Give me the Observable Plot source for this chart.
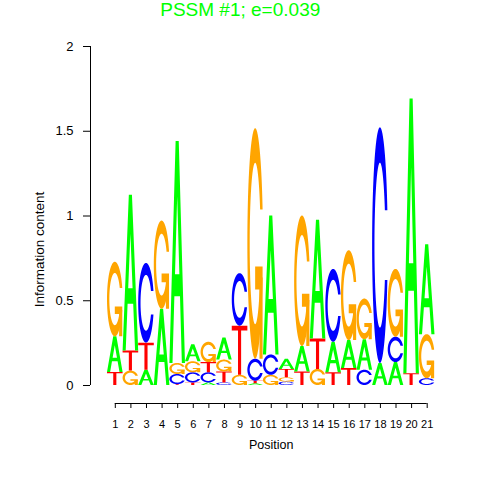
<!DOCTYPE html>
<html>
<head>
<meta charset="utf-8">
<script src="https://cdn.jsdelivr.net/npm/d3@7"></script>
<script src="https://cdn.jsdelivr.net/npm/@observablehq/plot@0.6"></script>
<style>
  html, body { margin: 0; padding: 0; background: #fff; }
  svg { display: block; }
</style>
</head>
<body>
<div id="chart"></div>
<script>
// ---- Data ----
const positions = [1,2,3,4,5,6,7,8,9,10,11,12,13,14,15,16,17,18,19,20,21];
const bases = ["A", "C", "G", "T"];
// information content (bits) carried by each letter at each position
const heightA = [0.21, 0.92, 0.09, 0.45, 1.31, 0.10, 0.015, 0.13, 0.00, 0.01, 0.82, 0.06, 0.15, 0.70, 0.18, 0.165, 0.18, 0.13, 0.135, 1.62, 0.53];
const heightC = [0.00, 0.00, 0.47, 0.00, 0.06, 0.06, 0.06, 0.015, 0.31, 0.13, 0.12, 0.02, 0.00, 0.00, 0.43, 0.00, 0.09, 1.39, 0.15, 0.00, 0.04];
const heightG = [0.44, 0.085, 0.00, 0.52, 0.065, 0.065, 0.12, 0.07, 0.06, 1.36, 0.06, 0.025, 0.77, 0.095, 0.00, 0.53, 0.24, 0.00, 0.40, 0.00, 0.26];
const heightT = [0.077, 0.118, 0.16, 0.00, 0.005, 0.015, 0.06, 0.065, 0.29, 0.015, 0.00, 0.05, 0.08, 0.18, 0.075, 0.10, 0.00, 0.00, 0.00, 0.07, 0.00];
const yTicks = [0, 0.5, 1, 1.5, 2];
const titleText = "PSSM #1; e=0.039";
const xLabel = "Position";
const yLabel = "Information content";
const baseColors = {A: "#00ff00", C: "#0000ff", G: "#ffa500", T: "#ff0000"};

// ---- Stack letters: smallest at the bottom ----
const heights = {A: heightA, C: heightC, G: heightG, T: heightT};
const stacked = [];
positions.forEach((p, i) => {
  const col = bases.map(b => ({base: b, h: heights[b][i]}))
    .filter(d => d.h > 0)
    .sort((a, b) => a.h - b.h);
  let y0 = 0;
  for (const d of col) {
    stacked.push({position: p, base: d.base, y1: y0, y2: y0 + d.h});
    y0 += d.h;
  }
});

// ---- Letter glyph outlines in a unit box (seqLogo style) ----
function seq(a, b, n) { const out = []; for (let i = 0; i < n; i++) out.push(a + (b - a) * i / (n - 1)); return out; }
function cRing() {
  const a1 = seq(0.3 + Math.PI / 2, Math.PI, 100);
  const a2 = seq(Math.PI, 1.5 * Math.PI, 100);
  const xl1 = a1.map(a => 0.5 + 0.5 * Math.sin(a)), yl1 = a1.map(a => 0.5 + 0.5 * Math.cos(a));
  const xl2 = a2.map(a => 0.5 + 0.5 * Math.sin(a)), yl2 = a2.map(a => 0.5 + 0.5 * Math.cos(a));
  const xl = xl1.concat(xl2), yl = yl1.concat(yl2);
  let x = xl.concat(xl.slice().reverse());
  let y = yl.concat(yl.slice().reverse().map(v => 1 - v));
  const maxY = Math.max(...yl1);
  let xi1 = a1.map(a => 0.5 + 0.35 * Math.sin(a)), yi1 = a1.map(a => 0.5 + 0.35 * Math.cos(a));
  const keep = yi1.map(v => v <= maxY);
  xi1 = xi1.filter((v, k) => keep[k]); yi1 = yi1.filter((v, k) => keep[k]);
  yi1[0] = maxY;
  const xi2 = a2.map(a => 0.5 + 0.35 * Math.sin(a)), yi2 = a2.map(a => 0.5 + 0.35 * Math.cos(a));
  const xi = xi1.concat(xi2), yi = yi1.concat(yi2);
  const x1 = xi.concat(xi.slice().reverse());
  const y1 = yi.concat(yi.slice().reverse().map(v => 1 - v));
  x = x.concat(x1.slice().reverse());
  y = y.concat(y1.slice().reverse());
  return {ring: x.map((v, k) => [v, y[k]]), r1: Math.max(...xl1)};
}
const cShape = cRing();
const r1 = cShape.r1, h1 = 0.4;
const glyphs = {
  A: {evenodd: true, rings: [
    [[0,0],[0.4,1],[0.6,1],[1,0],[0.8,0],[0.68,0.3],[0.32,0.3],[0.2,0]],
    [[0.36,0.4],[0.5,0.75],[0.64,0.4]]
  ]},
  C: {evenodd: false, rings: [cShape.ring]},
  G: {evenodd: false, rings: [cShape.ring,
    [[r1,h1],[0.5,h1],[0.5,h1-0.1],[r1-0.2,h1-0.1],[r1-0.2,0],[r1,0],[r1,h1]]]},
  T: {evenodd: false, rings: [[[0,1],[1,1],[1,0.9],[0.6,0.9],[0.6,0],[0.4,0],[0.4,0.9],[0,0.9]]]}
};

// custom mark: draws each stacked letter through Plot's x and y scales
function logoMark(index, scales) {
  const x = scales.x, y = scales.y;
  const g = d3.create("svg:g");
  for (const d of stacked) {
    const x0 = x(d.position - 0.5), x1 = x(d.position + 0.5);
    const yb = y(d.y1), yt = y(d.y2);
    const gl = glyphs[d.base];
    const toPath = r => r.map(([u, v], k) => (k ? "L" : "M") + (x0 + u * (x1 - x0)).toFixed(2) + "," + (yb - v * (yb - yt)).toFixed(2)).join("") + "Z";
    if (gl.evenodd) {
      g.append("path").attr("d", gl.rings.map(toPath).join("")).attr("fill", baseColors[d.base]).attr("fill-rule", "evenodd");
    } else {
      for (const r of gl.rings) g.append("path").attr("d", toPath(r)).attr("fill", baseColors[d.base]);
    }
  }
  return g.node();
}

const plot = Plot.plot({
  width: 480,
  height: 480,
  marginLeft: 107,
  marginRight: 45.5,
  marginTop: 46,
  marginBottom: 95,
  x: {domain: [0.5, 21.5], axis: null},
  y: {domain: [0, 2], axis: null},
  style: {fontFamily: "'Liberation Sans', Arial, Helvetica, sans-serif", background: "#fff", color: "#000"},
  marks: [
    logoMark,
    // y axis
    Plot.ruleX([0.5], {x: d => d, y1: 0, y2: 2, dx: -17, stroke: "#000"}),
    Plot.axisY(yTicks, {tickSize: 7, tickPadding: 10, dx: -17, fontSize: 13, tickFormat: d => String(d), label: null, stroke: "#000", fill: "#000"}),
    // x axis
    Plot.ruleY([0], {x1: 1, x2: 21, dy: 18, stroke: "#000"}),
    Plot.axisX(positions, {tickSize: 5, tickPadding: 12, dy: 18, fontSize: 11, tickFormat: d => String(d), label: null, stroke: "#000", fill: "#000"}),
    // labels and title
    Plot.text([xLabel], {text: d => d, frameAnchor: "bottom", textAnchor: "middle", lineAnchor: "middle", dy: 59.5, fontSize: 12.5, fill: "#000"}),
    Plot.text([yLabel], {text: d => d, frameAnchor: "left", textAnchor: "middle", lineAnchor: "middle", dx: -68, dy: 33.5, rotate: -90, fontSize: 13.5, fill: "#000"}),
    Plot.text([titleText], {text: d => d, frameAnchor: "top", textAnchor: "middle", lineAnchor: "middle", dx: -31, dy: -37, fontSize: 19, fill: "#00ff00"})
  ]
});
document.getElementById("chart").appendChild(plot);
</script>
</body>
</html>
